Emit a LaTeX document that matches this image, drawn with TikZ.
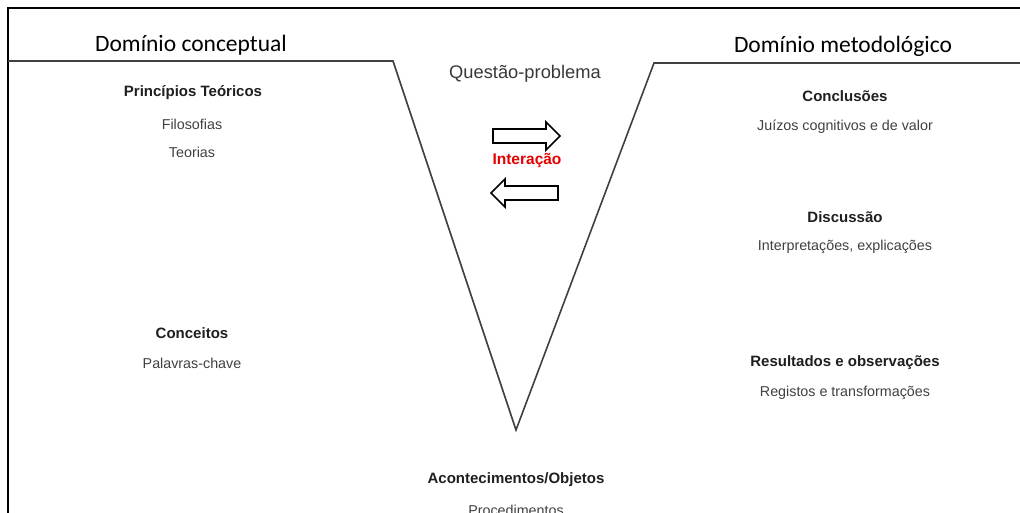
\documentclass[tikz,border=0pt]{standalone}
\usepackage{fontspec}
\setmainfont{Liberation Sans}
\newfontfamily\calfont{Carlito}
\begin{document}
\begin{tikzpicture}[x=1pt,y=-1pt,
  domtitle/.style={font=\calfont\fontsize{23.5}{26}\selectfont, text=black, inner sep=0pt},
  headtxt/.style={font=\bfseries\fontsize{15}{17}\selectfont, text=black!88, inner sep=0pt},
  subtxt/.style={font=\fontsize{14.3}{16}\selectfont, text=black!75, inner sep=0pt},
  vline/.style={draw=black!75, line width=1.6pt, line join=miter},
  outerframe/.style={draw=black, line width=2.6pt},
  fatarrow/.style={draw=black, line width=1.7pt, fill=white, line join=miter}]
  \useasboundingbox (0,0) rectangle (1020,512);
  \clip (0,0) rectangle (1020,512);

  % outer frame (top and left edges)
  \coordinate (fl) at (8,514);
  \coordinate (fc) at (8,8);
  \coordinate (fr) at (1022,8);
  \draw[outerframe] (fl) -- (fc) -- (fr);

  % the V
  \coordinate (lend) at (8,61);
  \coordinate (lcorner) at (393,61);
  \coordinate (tip) at (516,430);
  \coordinate (rcorner) at (654,63);
  \coordinate (rend) at (1022,63);
  \draw[vline] (lend) -- (lcorner) -- (tip) -- (rcorner) -- (rend);

  % domain titles
  \node[domtitle] (dc) at (191,45) {Domínio conceptual};
  \node[domtitle] (dm) at (843,46) {Domínio metodológico};

  % conceptual side
  \node[headtxt] (pt) at (193,93) {Princípios Teóricos};
  \node[subtxt] (fil) at (192,124) {Filosofias};
  \node[subtxt] (teo) at (192,152) {Teorias};
  \node[headtxt] (con) at (192,333) {Conceitos};
  \node[subtxt] (pal) at (192,363) {Palavras-chave};

  % centre
  \node[font=\fontsize{18.3}{21}\selectfont, text=black!78, inner sep=0pt] (qp) at (525,74) {Questão-problema};
  \node[font=\bfseries\fontsize{15.5}{17}\selectfont, text=red!90!black, inner sep=0pt] (int) at (527,161) {Interação};

  % interaction arrows
  \draw[fatarrow] (493,129) -- (546,129) -- (546,122) -- (560,136) -- (546,150) -- (546,143) -- (493,143) -- cycle;
  \draw[fatarrow] (558,186) -- (505,186) -- (505,179) -- (491,193) -- (505,207) -- (505,200) -- (558,200) -- cycle;

  % bottom
  \node[headtxt] (ao) at (516,480) {Acontecimentos/Objetos};
  \node[subtxt] (proc) at (516,510) {Procedimentos};

  % methodological side
  \node[headtxt] (conc) at (845,96) {Conclusões};
  \node[subtxt] (juiz) at (845,127) {Juízos cognitivos e de valor};
  \node[headtxt] (disc) at (845,217) {Discussão};
  \node[subtxt] (interp) at (845,247) {Interpretações, explicações};
  \node[headtxt] (res) at (845,363) {Resultados e observações};
  \node[subtxt] (reg) at (845,393) {Registos e transformações};
\end{tikzpicture}
\end{document}
